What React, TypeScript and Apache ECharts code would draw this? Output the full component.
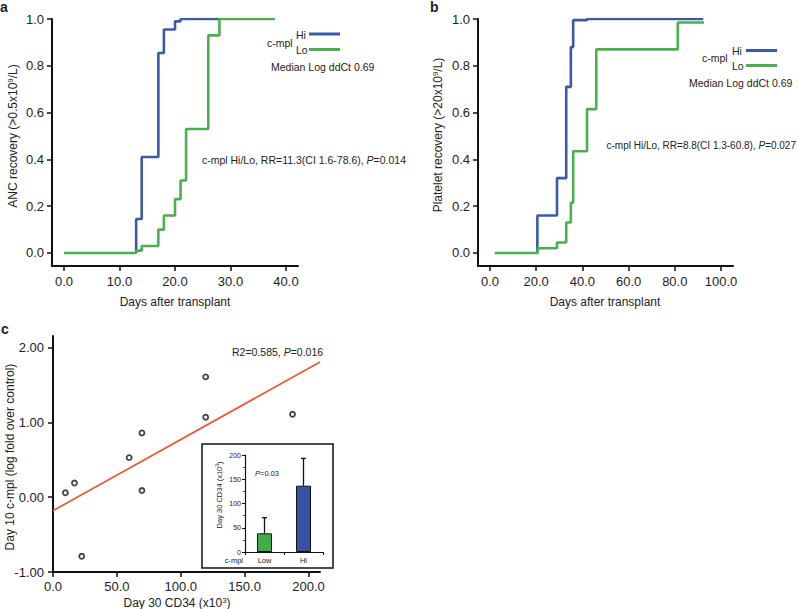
import React, { useEffect, useRef } from "react";
import * as echarts from "echarts";

// ---- Panel a: ANC recovery (days, cumulative fraction) ----
const ancHi: [number, number][] = [[13, 0], [13, 0.145], [14, 0.41], [17, 0.855], [18, 0.955], [20, 0.99], [21, 1.0], [28, 1.0]];
const ancLo: [number, number][] = [[0, 0], [13, 0.01], [14, 0.03], [17, 0.1], [18, 0.16], [20, 0.23], [21, 0.31], [22, 0.53], [26, 0.93], [28, 1.0], [38, 1.0]];
const ancXTicks = [0, 10, 20, 30, 40];

// ---- Panel b: Platelet recovery ----
const pltHi: [number, number][] = [[20.5, 0], [20.5, 0.16], [29, 0.32], [33, 0.71], [35, 0.88], [36, 0.995], [42, 1.0], [92.3, 1.0]];
const pltLo: [number, number][] = [[2, 0], [20.7, 0.02], [29, 0.045], [33, 0.13], [35, 0.215], [36, 0.435], [42, 0.615], [46, 0.87], [81.3, 0.985], [92.7, 0.985]];
const pltXTicks = [0, 20, 40, 60, 80, 100];
const recoveryYTicks = [0, 0.2, 0.4, 0.6, 0.8, 1.0];

// ---- Panel c: scatter ----
const cd34 = [9.7, 16.8, 22.5, 59.6, 69.6, 69.6, 119.5, 119.5, 187.5];
const cmpl = [0.06, 0.19, -0.79, 0.53, 0.86, 0.09, 1.61, 1.07, 1.11];
const fitLine: [number, number][] = [[0, -0.18], [209, 1.81]];
const scatXTicks = [0, 50, 100, 150, 200];
const scatYTicks = [-1, 0, 1, 2];

// ---- Inset bars ----
const insetCats = ["Low", "Hi"];
const insetMeans = [38.5, 136.7];
const insetErrTop = [70.7, 193];

const BLUE = "#3b5aa6";
const GREEN = "#4bae4f";
const RED = "#e2603c";
const INK = "#222";
const FONT = "'Liberation Sans', Arial, Helvetica, sans-serif";

export default function App() {
  const ref = useRef<HTMLDivElement>(null);
  useEffect(() => {
    if (!ref.current) return;
    const chart = echarts.init(ref.current, null, { renderer: "svg" });

    const axisLine = { show: true, onZero: false, lineStyle: { color: "#111", width: 2 } };
    const axisTick = (vals: number[]) => ({ show: true, length: 5, customValues: vals, lineStyle: { color: "#111", width: 1.5 } });
    const lbl = (vals: number[], digits: number, margin: number, size = 13) => ({
      show: true,
      color: INK,
      fontSize: size,
      fontFamily: FONT,
      margin,
      customValues: vals,
      formatter: (v: number) => v.toFixed(digits),
    });

    // text with segments: [string, kind] where kind: n normal, i italic, s superscript
    const txt = (x: number, y: number, parts: [string, string][], opts: any = {}) => {
      const size = opts.size || 10.5;
      const base = { fontSize: size, fontFamily: FONT, fill: INK, fontWeight: opts.bold ? "bold" : "normal" };
      return {
        type: "text",
        x,
        y,
        rotation: opts.rotation || 0,
        style: {
          text: parts.map(([t, k]) => `{${k}|${t}}`).join(""),
          ...base,
          align: opts.align || "left",
          verticalAlign: "middle",
          rich: {
            n: { ...base },
            i: { ...base, fontStyle: "italic" },
            s: { ...base, fontSize: size * 0.65, verticalAlign: "top", padding: [0, 0, size * 0.45, 0] },
          },
        },
      };
    };
    const seg = (x1: number, y1: number, x2: number, y2: number, color: string, w = 3) => ({
      type: "line",
      shape: { x1, y1, x2, y2 },
      style: { stroke: color, lineWidth: w },
    });

    const option: any = {
      animation: false,
      backgroundColor: "#fff",
      grid: [
        { left: 52, top: 19, width: 246, height: 247 },
        { left: 478, top: 19, width: 255, height: 247 },
        { left: 53, top: 336, width: 267, height: 236 },
        { left: 245, top: 455, width: 78, height: 97 },
      ],
      xAxis: [
        { type: "value", gridIndex: 0, min: -2.16, max: 42.16, axisLine, axisTick: axisTick(ancXTicks), axisLabel: lbl(ancXTicks, 1, 9), splitLine: { show: false } },
        { type: "value", gridIndex: 1, min: -5.2, max: 105.2, axisLine, axisTick: axisTick(pltXTicks), axisLabel: lbl(pltXTicks, 1, 9), splitLine: { show: false } },
        { type: "value", gridIndex: 2, min: 0, max: 209, axisLine, axisTick: axisTick(scatXTicks), axisLabel: lbl(scatXTicks, 1, 8), splitLine: { show: false } },
        {
          type: "category", gridIndex: 3, data: insetCats,
          axisLine: { show: true, onZero: false, lineStyle: { color: "#111", width: 1.2 } },
          axisTick: { show: true, length: 3, lineStyle: { color: "#111", width: 1 } },
          axisLabel: { color: INK, fontSize: 7.5, fontFamily: FONT, margin: 4 },
        },
      ],
      yAxis: [
        { type: "value", gridIndex: 0, min: -0.0556, max: 1.0, axisLine, axisTick: axisTick(recoveryYTicks), axisLabel: lbl(recoveryYTicks, 1, 8), splitLine: { show: false } },
        { type: "value", gridIndex: 1, min: -0.0556, max: 1.0, axisLine, axisTick: axisTick(recoveryYTicks), axisLabel: lbl(recoveryYTicks, 1, 8), splitLine: { show: false } },
        { type: "value", gridIndex: 2, min: -1, max: 2.157, axisLine, axisTick: axisTick(scatYTicks), axisLabel: lbl(scatYTicks, 2, 9), splitLine: { show: false } },
        {
          type: "value", gridIndex: 3, min: 0, max: 200, interval: 50,
          axisLine: { show: true, onZero: false, lineStyle: { color: "#111", width: 1.2 } },
          axisTick: { show: true, length: 3, lineStyle: { color: "#111", width: 1 } },
          minorTick: { show: true, splitNumber: 2, length: 2, lineStyle: { color: "#111", width: 0.8 } },
          axisLabel: { color: INK, fontSize: 7, fontFamily: FONT, margin: 4 },
          splitLine: { show: false },
        },
      ],
      series: [
        { type: "line", xAxisIndex: 0, yAxisIndex: 0, step: "end", data: ancHi, symbol: "none", lineStyle: { color: BLUE, width: 2.6 } },
        { type: "line", xAxisIndex: 0, yAxisIndex: 0, step: "end", data: ancLo, symbol: "none", lineStyle: { color: GREEN, width: 2.6 } },
        { type: "line", xAxisIndex: 1, yAxisIndex: 1, step: "end", data: pltHi, symbol: "none", lineStyle: { color: BLUE, width: 2.6 } },
        { type: "line", xAxisIndex: 1, yAxisIndex: 1, step: "end", data: pltLo, symbol: "none", lineStyle: { color: GREEN, width: 2.6 } },
        { type: "line", xAxisIndex: 2, yAxisIndex: 2, data: fitLine, symbol: "none", lineStyle: { color: RED, width: 1.8 } },
        {
          type: "scatter", xAxisIndex: 2, yAxisIndex: 2, data: cd34.map((x, i) => [x, cmpl[i]]),
          symbol: "circle", symbolSize: 5, itemStyle: { color: "#fff", borderColor: "#111", borderWidth: 1.8 }, z: 5,
        },
        {
          type: "bar", xAxisIndex: 3, yAxisIndex: 3, barWidth: 15,
          data: insetMeans.map((v, i) => ({ value: v, itemStyle: { color: i === 0 ? "#3fae49" : "#3453a4", borderColor: "#111", borderWidth: 1 } })),
        },
        {
          type: "custom", xAxisIndex: 3, yAxisIndex: 3, z: 1,
          data: insetMeans.map((v, i) => [i, v, insetErrTop[i]]),
          renderItem: (params: any, api: any) => {
            const lo = api.coord([api.value(0), api.value(1)]);
            const hi = api.coord([api.value(0), api.value(2)]);
            return {
              type: "group",
              children: [
                { type: "line", shape: { x1: lo[0], y1: lo[1], x2: hi[0], y2: hi[1] }, style: { stroke: "#111", lineWidth: 1.3 } },
                { type: "line", shape: { x1: hi[0] - 2.5, y1: hi[1], x2: hi[0] + 2.5, y2: hi[1] }, style: { stroke: "#111", lineWidth: 1.3 } },
              ],
            };
          },
        },
      ],
      graphic: [
        txt(0, 7, [["a", "n"]], { bold: true, size: 14 }),
        txt(430, 7, [["b", "n"]], { bold: true, size: 14 }),
        txt(1, 329, [["c", "n"]], { bold: true, size: 14 }),
        // axis names
        txt(13, 136, [["ANC recovery (>0.5x10", "n"], ["9", "s"], ["/L)", "n"]], { rotation: Math.PI / 2, align: "center", size: 12 }),
        txt(175, 302, [["Days after transplant", "n"]], { align: "center", size: 12 }),
        txt(438, 135, [["Platelet recovery (>20x10", "n"], ["9", "s"], ["/L)", "n"]], { rotation: Math.PI / 2, align: "center", size: 12 }),
        txt(605, 302, [["Days after transplant", "n"]], { align: "center", size: 12 }),
        txt(10, 457, [["Day 10 c-mpl (log fold over control)", "n"]], { rotation: Math.PI / 2, align: "center", size: 12 }),
        txt(177, 603, [["Day 30 CD34 (x10", "n"], ["3", "s"], [")", "n"]], { align: "center", size: 12 }),
        // legend a
        txt(296, 35, [["Hi", "n"]]),
        txt(296, 50, [["Lo", "n"]]),
        txt(267, 43, [["c-mpl", "n"]]),
        seg(309, 34, 340, 34, BLUE),
        seg(309, 49.5, 340, 49.5, GREEN),
        txt(271, 67, [["Median Log ddCt 0.69", "n"]]),
        txt(406, 160, [["c-mpl Hi/Lo, RR=11.3(CI 1.6-78.6), ", "n"], ["P", "i"], ["=0.014", "n"]], { size: 10.5, align: "right" }),
        // legend b
        txt(732, 51, [["Hi", "n"]]),
        txt(732, 66, [["Lo", "n"]]),
        txt(702, 58, [["c-mpl", "n"]]),
        seg(746, 50.5, 777, 50.5, BLUE),
        seg(746, 65.5, 777, 65.5, GREEN),
        txt(689, 83, [["Median Log ddCt 0.69", "n"]]),
        txt(796, 145, [["c-mpl Hi/Lo, RR=8.8(CI 1.3-60.8), ", "n"], ["P", "i"], ["=0.027", "n"]], { size: 10, align: "right" }),
        // panel c annotations
        txt(232, 352, [["R2=0.585, ", "n"], ["P", "i"], ["=0.016", "n"]]),
        {
          type: "rect",
          shape: { x: 202, y: 444, width: 131, height: 124 },
          style: { fill: "none", stroke: "#111", lineWidth: 1.5 },
        },
        txt(255, 473, [["P", "i"], ["=0.03", "n"]], { size: 7.5 }),
        txt(219, 495, [["Day 30 CD34 (x10", "n"], ["3", "s"], [")", "n"]], { rotation: Math.PI / 2, align: "center", size: 7.5 }),
        txt(243, 560, [["c-mpl", "n"]], { size: 7.5, align: "right" }),
      ],
    };

    chart.setOption(option);
    return () => chart.dispose();
  }, []);

  return <div ref={ref} style={{ position: "fixed", left: 0, top: 0, width: 798, height: 609 }} />;
}
